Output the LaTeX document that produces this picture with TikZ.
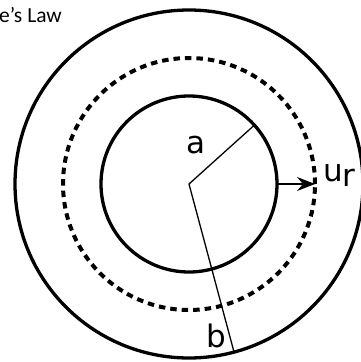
\documentclass[tikz,border=0pt]{standalone}
\usepackage{fontspec}
\newfontfamily\labelfont{DejaVu Sans}
\newfontfamily\titlefont{Carlito}
\usetikzlibrary{arrows.meta}

\begin{document}
\begin{tikzpicture}[
	x=1pt, y=-1pt,
	>={Stealth[length=18pt, width=14pt, inset=6pt]},
	ring/.style={circle, draw, line width=3.3pt, inner sep=0pt, outer sep=0pt},
	surface/.style={ring, line width=4pt, dash pattern=on 6.5pt off 5pt},
	rad/.style={line width=1.3pt},
	lbl/.style={font=\labelfont\fontsize{31}{31}\selectfont, inner sep=0pt},
	tit/.style={font=\titlefont\fontsize{21.5}{21.5}\selectfont, inner sep=0pt},
]
\useasboundingbox (0,0) rectangle (361,362);
% Anéis
\coordinate (o) at (189,184);
\node[ring, minimum size=176pt] (inner) at (o) {};
\node[surface, minimum size=252pt] (surf) at (o) {};
\node[ring, minimum size=348pt] (outer) at (o) {};
% Raios e seta
\draw[rad] (inner.42) -- (o) -- (outer.-75);
\draw[rad, ->] (inner.east) -- (surf.east);
% Rótulos
\node[lbl, anchor=base] (la) at (196,153) {a};
\node[lbl, anchor=base] (lb) at (216,347) {b};
\node[lbl, anchor=base west] (lu) at (323,181) {u\raisebox{-5pt}{r}};
\node[tit, anchor=base east] (title) at (62,22) {e’s Law};
\end{tikzpicture}
\end{document}
